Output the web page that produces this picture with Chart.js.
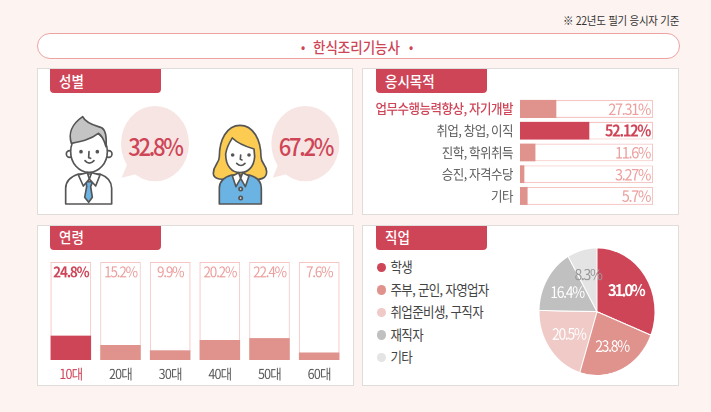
<!DOCTYPE html>
<html lang="ko"><head><meta charset="utf-8">
<script src="https://cdn.jsdelivr.net/npm/chart.js@4"></script>
<style>
html,body{margin:0;padding:0;background:#fdf3f1;overflow:hidden}
body{width:711px;height:412px;position:relative;font-family:"Noto Sans CJK KR","Noto Sans",sans-serif}
.box{position:absolute;box-sizing:border-box}
.t{position:absolute;white-space:nowrap;line-height:1;transform-origin:0 50%}
.wrap{position:absolute;transform:scaleY(1.1);transform-origin:0 0}
.wrap canvas{display:block}
svg{position:absolute;left:0;top:0}
</style></head><body>
<svg width="360" height="220" viewBox="0 0 1080 660" style="z-index:2">
<g stroke="#555" stroke-width="5" stroke-linejoin="round" stroke-linecap="round">
<path d="M197 612V565Q197 535 235 522L300 522Q335 535 335 565V612Z" fill="#fff"/>
<circle cx="209" cy="462" r="10" fill="#fff"/><circle cx="326" cy="462" r="10" fill="#fff"/>
<ellipse cx="267" cy="455" rx="55" ry="62" fill="#fff"/>
<path d="M214 430C205 400 212 375 248 350C258 372 290 378 305 383C320 392 320 415 318 440C312 420 305 405 295 400C270 420 240 425 214 430Z" fill="#c4c4c4"/>
<path d="M258 545L278 545L272 560L277 592L266 607L254 592L260 560Z" fill="#6bb3e3"/>
<path d="M235 525L262 518L268 537L250 558Z" fill="#fff"/><path d="M300 525L275 518L268 537L287 558Z" fill="#fff"/>
<path d="M267 455L266 473L272 475M255 482Q268 497 282 482" fill="none"/>
<circle cx="243" cy="455" r="3" fill="#555"/><circle cx="292" cy="455" r="3" fill="#555"/>
<path d="M720 376C680 376 658 420 658 470C658 490 640 495 640 520C640 535 660 542 680 535L760 535C780 542 800 535 800 515C800 495 783 490 783 470C783 420 760 376 720 376Z" fill="#fbcb52"/>
<path d="M658 612V565Q658 535 695 525L748 525Q784 535 784 565V612Z" fill="#6bb3e3"/>
<path d="M677 462C680 440 690 425 697 414C715 432 745 442 762 447L764 470C762 500 745 518 720 518C695 518 677 498 677 462Z" fill="#fff"/>
<path d="M697 528L716 518L722 535L708 560Z" fill="#fff"/><path d="M747 528L728 518L722 535L736 560Z" fill="#fff"/>
<circle cx="722" cy="567" r="5" fill="#fff"/><circle cx="722" cy="594" r="5" fill="#fff"/>
<path d="M722 465L721 478L726 480M710 490Q723 503 735 490" fill="none"/>
<circle cx="698" cy="465" r="3" fill="#555"/><circle cx="747" cy="465" r="3" fill="#555"/>
</g>
<g fill="#f7e5e3">
<ellipse cx="465" cy="431" rx="102" ry="113"/><path d="M365 533L383 490L410 522Z"/>
<ellipse cx="916" cy="431" rx="102" ry="113"/><path d="M818 533L836 490L861 522Z"/>
</g>
</svg>
<script>
const genderValues = ['32.8%', '67.2%'];
const purposeLabels = ['업무수행능력향상, 자기개발', '취업, 창업, 이직', '진학, 학위취득', '승진, 자격수당', '기타'];
const purposeValues = [27.31, 52.12, 11.6, 3.27, 5.7];
const purposeText = ['27.31%', '52.12%', '11.6%', '3.27%', '5.7%'];
const ageLabels = ['10대', '20대', '30대', '40대', '50대', '60대'];
const ageValues = [24.8, 15.2, 9.9, 20.2, 22.4, 7.6];
const jobLabels = ['학생', '주부, 군인, 자영업자', '취업준비생, 구직자', '재직자', '기타'];
const jobValues = [31.0, 23.8, 20.5, 16.4, 8.3];

const RED = '#cf4558', ROSE = '#e0928d', LIGHTTXT = '#ec9f9d', TRACK = '#f5c6c4';
const JOBCOL = [RED, ROSE, '#efcac7', '#bfc0bf', '#e4e4e4'];
const FONT = '"Noto Sans CJK KR","Noto Sans",sans-serif';
const SY = 1.1;

function box(x, y, w, h, css) {
  const d = document.createElement('div'); d.className = 'box';
  d.style.cssText = `left:${x}px;top:${y}px;width:${w}px;height:${h}px;${css}`;
  document.body.appendChild(d); return d;
}
function text(x, cy, s, o) {
  const d = document.createElement('div'); d.className = 't'; d.textContent = s;
  const tx = o.align === 'right' ? 'translateX(-100%) ' : o.align === 'center' ? 'translateX(-50%) ' : '';
  d.style.cssText = `left:${x}px;top:${cy - o.size / 2}px;font-size:${o.size}px;font-weight:${o.weight || 400};color:${o.color};letter-spacing:${o.ls || 0}px;transform:${tx}scaleY(${SY});z-index:3`;
  document.body.appendChild(d);
}
function makeCanvas(x, y, w, h) {
  const d = document.createElement('div'); d.className = 'wrap';
  const ih = h / SY;
  d.style.cssText = `left:${x}px;top:${y}px;width:${w}px;height:${ih}px;z-index:2`;
  const c = document.createElement('canvas'); c.width = w; c.height = ih;
  d.appendChild(c); document.body.appendChild(d); return c;
}

// panels
box(36.5, 33, 643, 25.5, 'background:#fff;border:1px solid #eda3a3;border-bottom-width:1.5px;border-radius:13px');
[[36.7, 68.2, 316.6, 147], [362.3, 68.2, 317, 147], [37, 225, 316.5, 161], [362.3, 225, 317, 161]].forEach(p =>
  box(p[0], p[1], p[2], p[3], 'background:#fff;border:1px solid #dfdcdc'));
[[50, 68.5, 111, 24.2], [376, 68.5, 111, 24.2], [50, 225.5, 111, 24], [376, 225.5, 111, 24]].forEach(p =>
  box(p[0], p[1], p[2], p[3], `background:${RED};border-radius:0 0 4px 4px`));

// static text
text(679, 21, '※ 22년도 필기 응시자 기준', {size: 10.5, color: '#333', align: 'right', ls: -0.3});
text(303, 47, '•', {size: 11, color: RED, weight: 700, align: 'center'});
text(313, 47, '한식조리기능사', {size: 13.5, color: RED, weight: 500, ls: 0});
text(411, 47, '•', {size: 11, color: RED, weight: 700, align: 'center'});
text(59, 80.5, '성별', {size: 13.5, color: '#fff', weight: 500});
text(385, 80.5, '응시목적', {size: 13.5, color: '#fff', weight: 500});
text(59, 237, '연령', {size: 13.5, color: '#fff', weight: 500});
text(385, 237, '직업', {size: 13.5, color: '#fff', weight: 500});
text(155, 144.5, genderValues[0], {size: 22, color: RED, weight: 500, align: 'center', ls: -2.3});
text(305.5, 144.5, genderValues[1], {size: 22, color: RED, weight: 500, align: 'center', ls: -2.3});

// job legend
const legY = [267.7, 290.2, 312.7, 335, 357.5];
jobLabels.forEach((l, i) => {
  box(377, legY[i] - 4.8, 9.4, 9.6, `background:${JOBCOL[i]};border-radius:50%`);
  text(390.5, legY[i], l, {size: 12.5, color: '#444', ls: -0.65});
});

const spacing = {id: 'spacing', beforeDraw(c) { c.ctx.letterSpacing = c.options.plugins.spacing.ls; }};
const common = {responsive: false, maintainAspectRatio: false, animation: false, devicePixelRatio: 2,
  plugins: {legend: {display: false}, tooltip: {enabled: false}}};

// purpose bars
const barValueText = {id: 'barValueText', afterDatasetsDraw(c) {
  const ctx = c.ctx, m = c.getDatasetMeta(1);
  ctx.save(); ctx.textBaseline = 'middle'; ctx.textAlign = 'right'; ctx.letterSpacing = '-1.3px';
  m.data.forEach((b, i) => {
    ctx.font = `${i === 1 ? 700 : 400} 14.5px ${FONT}`;
    ctx.fillStyle = i === 1 ? RED : LIGHTTXT;
    ctx.fillText(purposeText[i], b.x - 3, b.y);
  });
  ctx.restore();
}};
new Chart(makeCanvas(365, 98, 290, 110), {
  type: 'bar',
  data: {labels: purposeLabels, datasets: [
    {data: purposeValues, backgroundColor: purposeValues.map((_, i) => i === 1 ? RED : ROSE), grouped: false, barPercentage: 18 / 22, categoryPercentage: 1},
    {data: purposeValues.map(() => 100), backgroundColor: '#fff', borderColor: TRACK, borderWidth: 1, grouped: false, barPercentage: 18 / 22, categoryPercentage: 1}
  ]},
  options: {...common, indexAxis: 'y', layout: {padding: {right: 2}},
    plugins: {...common.plugins, spacing: {ls: '-0.5px'}},
    scales: {
      x: {display: false, min: 0, max: 100},
      y: {afterFit(s) { s.width = 155; s.paddingTop = 0; s.paddingBottom = 0; }, grid: {display: false, drawTicks: false}, border: {display: false},
        ticks: {padding: 7, autoSkip: false,
          color: purposeLabels.map((_, i) => i === 0 ? RED : '#5c5c5c'),
          font: ctx => ({family: FONT, size: 12.5, weight: ctx.index === 0 ? 500 : 400})}}
    }},
  plugins: [spacing, barValueText]
});

// age bars
const ageValueText = {id: 'ageValueText', afterDatasetsDraw(c) {
  const ctx = c.ctx, m = c.getDatasetMeta(1);
  ctx.save(); ctx.textBaseline = 'middle'; ctx.textAlign = 'center'; ctx.letterSpacing = '-1.2px';
  m.data.forEach((b, i) => {
    ctx.font = `${i === 0 ? 700 : 400} 13.5px ${FONT}`;
    ctx.fillStyle = i === 0 ? RED : LIGHTTXT;
    ctx.fillText(ageValues[i].toFixed(1) + '%', b.x, c.chartArea.top + 9);
  });
  ctx.restore();
}};
new Chart(makeCanvas(46.3, 261.5, 298.4, 120.5), {
  type: 'bar',
  data: {labels: ageLabels, datasets: [
    {data: ageValues, backgroundColor: ageValues.map((_, i) => i === 0 ? RED : ROSE), grouped: false, barPercentage: 0.816, categoryPercentage: 1},
    {data: ageValues.map(() => 100), backgroundColor: '#fff', borderColor: TRACK, borderWidth: 1, grouped: false, barPercentage: 0.816, categoryPercentage: 1}
  ]},
  options: {...common,
    plugins: {...common.plugins, spacing: {ls: '-0.8px'}},
    scales: {
      y: {display: false, min: 0, max: 100},
      x: {afterFit(s) { s.height = 20; }, grid: {display: false, drawTicks: false}, border: {display: false},
        ticks: {padding: 5, maxRotation: 0, color: ageLabels.map((_, i) => i === 0 ? RED : '#5c5c5c'),
          font: {family: FONT, size: 12.5}}}
    }},
  plugins: [spacing, ageValueText]
});

// pie
const pieText = {id: 'pieText', afterDatasetsDraw(c) {
  const ctx = c.ctx, m = c.getDatasetMeta(0);
  ctx.save(); ctx.textBaseline = 'middle'; ctx.textAlign = 'center';
  m.data.forEach((a, i) => {
    const mid = (a.startAngle + a.endAngle) / 2, r = a.outerRadius * 0.6;
    ctx.font = `${i === 0 ? 700 : 400} ${i === 0 ? 15 : 14}px ${FONT}`;
    ctx.letterSpacing = i === 0 ? '-2px' : '-1.3px';
    ctx.fillStyle = i === 4 ? '#9a9a9a' : '#fff';
    ctx.fillText(jobValues[i].toFixed(1) + '%', a.x + Math.cos(mid) * r, a.y + Math.sin(mid) * r);
  });
  ctx.restore();
}};
new Chart(makeCanvas(532, 244, 130, 136), {
  type: 'pie',
  data: {labels: jobLabels, datasets: [{data: jobValues, backgroundColor: JOBCOL, borderColor: '#fff', borderWidth: 1, radius: 58}]},
  options: {...common, layout: {padding: 0}},
  plugins: [pieText]
});
</script>
</body></html>
